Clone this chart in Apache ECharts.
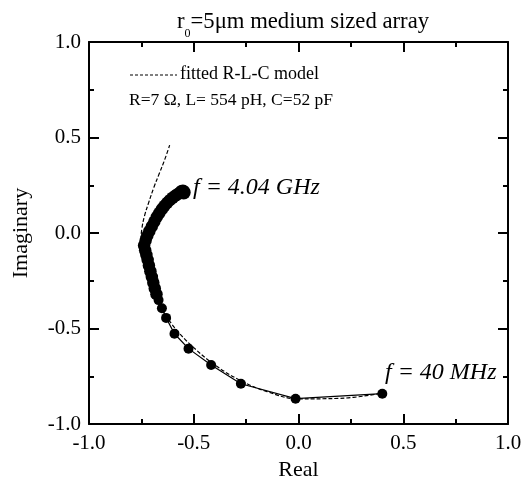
<!DOCTYPE html>
<html>
<head>
<meta charset="utf-8">
<script src="https://cdn.jsdelivr.net/npm/echarts@6/dist/echarts.min.js"></script>
<style>html,body{margin:0;padding:0;background:#fff;}#c{width:525px;height:486px;}</style>
</head>
<body>
<div id="c"></div>
<script>
var xTicks = [-1.0, -0.5, 0.0, 0.5, 1.0];
var yTicks = [-1.0, -0.5, 0.0, 0.5, 1.0];

// measured data (Real, Imaginary), from 40 MHz to 4.04 GHz
var measReal = [0.40, -0.014, -0.275, -0.417, -0.525, -0.592, -0.632, -0.652, -0.668,
  -0.678, -0.686, -0.693, -0.700, -0.707, -0.714, -0.720, -0.726, -0.732, -0.737,
  -0.730, -0.722, -0.712, -0.700, -0.688, -0.676, -0.664, -0.652, -0.640, -0.627,
  -0.614, -0.601, -0.589, -0.577, -0.566, -0.558, -0.552, -0.548];
var measImag = [-0.841, -0.867, -0.789, -0.691, -0.605, -0.527, -0.444, -0.394, -0.351,
  -0.320, -0.290, -0.260, -0.230, -0.200, -0.170, -0.140, -0.115, -0.090, -0.065,
  -0.040, -0.015, 0.010, 0.035, 0.060, 0.085, 0.105, 0.125, 0.142, 0.158,
  0.172, 0.185, 0.195, 0.203, 0.210, 0.215, 0.218, 0.212];

// fitted R-L-C model curve (dashed)
var fitReal = [0.39, 0.20, 0.00, -0.15, -0.28, -0.40, -0.50, -0.58, -0.64, -0.69,
  -0.72, -0.74, -0.752, -0.748, -0.735, -0.715, -0.690, -0.665, -0.640, -0.615];
var fitImag = [-0.84, -0.865, -0.868, -0.83, -0.77, -0.69, -0.60, -0.51, -0.42, -0.32,
  -0.22, -0.13, -0.04, 0.02, 0.09, 0.16, 0.24, 0.31, 0.38, 0.46];

function zip(a, b) { return a.map(function (v, i) { return [v, b[i]]; }); }

var serif = '"Liberation Serif", "DejaVu Serif", serif';
var chart = echarts.init(document.getElementById('c'), null, {renderer: 'canvas'});

function axisCommon(showLabel, pos, isX) {
  return {
    type: 'value', min: -1, max: 1, interval: 0.5, position: pos,
    axisLine: {show: true, onZero: false, lineStyle: {color: '#000', width: 2}},
    axisTick: {show: true, inside: true, length: 10, lineStyle: {color: '#000', width: 2}},
    minorTick: {show: true, splitNumber: 2, length: 5, lineStyle: {color: '#000', width: 2}},
    splitLine: {show: false},
    axisLabel: {
      show: showLabel, color: '#000', fontFamily: serif, fontSize: 21, margin: isX ? 9 : 8,
      formatter: function (v) { return v.toFixed(1); }
    }
  };
}

var xBottom = axisCommon(true, 'bottom', true);
xBottom.name = 'Real'; xBottom.nameLocation = 'middle'; xBottom.nameGap = 31;
xBottom.nameTextStyle = {color: '#000', fontFamily: serif, fontSize: 22};
var xTop = axisCommon(false, 'top', true);
var yLeft = axisCommon(true, 'left', false);
yLeft.name = 'Imaginary'; yLeft.nameLocation = 'middle'; yLeft.nameGap = 57;
yLeft.nameTextStyle = {color: '#000', fontFamily: serif, fontSize: 22};
var yRight = axisCommon(false, 'right', false);

chart.setOption({
  animation: false,
  backgroundColor: '#fff',
  title: {
    text: '{a|r}{b|0}{a|=5μm medium sized array}',
    left: 298, top: 6, textAlign: 'center',
    textStyle: {
      fontWeight: 'normal',
      rich: {
        a: {fontFamily: serif, fontSize: 22.7, color: '#000', fontWeight: 'normal', verticalAlign: 'bottom'},
        b: {fontFamily: serif, fontSize: 12, color: '#000', fontWeight: 'normal', verticalAlign: 'bottom', padding: [0, 0, -6, 0]}
      }
    }
  },
  grid: {left: 89, top: 42, right: 17, bottom: 58, containLabel: false},
  xAxis: [xBottom, xTop],
  yAxis: [yLeft, yRight],
  graphic: [
    {type: 'line', shape: {x1: 130, y1: 75, x2: 177, y2: 75}, style: {stroke: '#000', lineWidth: 1.2, lineDash: [3, 2]}},
    {type: 'text', left: 180, top: 65, style: {text: 'fitted R-L-C model', font: '18px ' + serif, fill: '#000'}},
    {type: 'text', left: 129, top: 91, style: {text: 'R=7 Ω, L= 554 pH, C=52 pF', font: '17.5px ' + serif, fill: '#000'}},
    {type: 'text', left: 193, top: 176, style: {text: 'f = 4.04 GHz', font: 'italic 24px ' + serif, fill: '#000'}},
    {type: 'text', left: 385, top: 361, style: {text: 'f = 40 MHz', font: 'italic 24px ' + serif, fill: '#000'}}
  ],
  series: [
    {
      name: 'measured', type: 'line', xAxisIndex: 0, yAxisIndex: 0,
      data: zip(measReal, measImag),
      symbol: 'circle', showSymbol: true,
      symbolSize: function (v, p) { return p.dataIndex < 9 ? 10 : (p.dataIndex > 33 ? 14 : 12.5); },
      itemStyle: {color: '#000'}, lineStyle: {color: '#000', width: 1.2},
      z: 3
    },
    {
      name: 'fitted R-L-C model', type: 'line', xAxisIndex: 0, yAxisIndex: 0,
      data: zip(fitReal, fitImag), smooth: 0.4,
      symbol: 'none', itemStyle: {color: '#000'},
      lineStyle: {color: '#000', width: 1.2, type: [4, 2]},
      z: 4
    }
  ]
});
</script>
</body>
</html>
